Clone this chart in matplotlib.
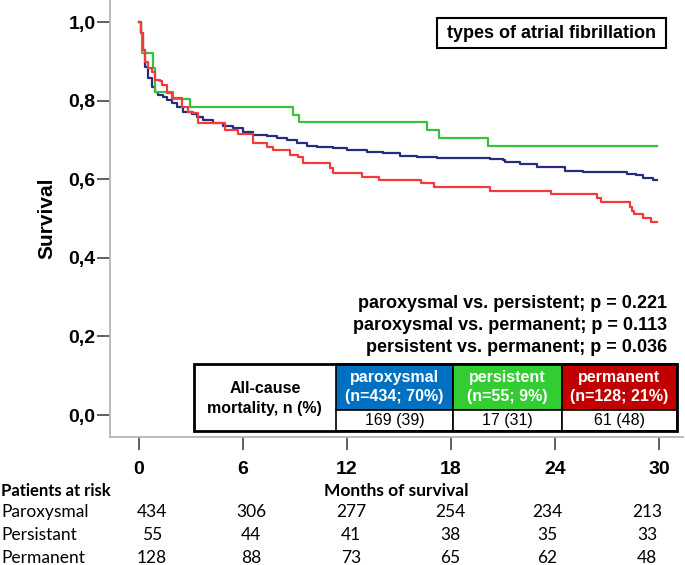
import matplotlib.pyplot as plt
from matplotlib.patches import Rectangle

# Kaplan-Meier curves (months, survival)
t_par = [0, 0.1, 0.21, 0.35, 0.54, 0.73, 0.92, 1.11, 1.40, 1.60, 1.89, 2.18, 2.56, 3.04,
         3.33, 3.71, 4.29, 4.86, 5.44, 6.02, 6.60, 7.37, 7.95, 8.52, 9.10, 9.68, 10.25,
         11.19, 11.98, 13.14, 14.1, 15.06, 16.02, 17.18, 20.25, 21.0, 21.12, 22.0, 22.95,
         24.58, 25.6, 28.14, 28.7, 29.08, 29.66, 29.87]
s_par = [1, 0.971, 0.929, 0.886, 0.857, 0.835, 0.823, 0.814, 0.810, 0.802, 0.793, 0.783,
         0.772, 0.765, 0.759, 0.751, 0.742, 0.735, 0.730, 0.721, 0.712, 0.710, 0.704, 0.700,
         0.693, 0.684, 0.683, 0.680, 0.674, 0.670, 0.666, 0.660, 0.657, 0.653, 0.651, 0.649,
         0.643, 0.639, 0.632, 0.621, 0.618, 0.613, 0.611, 0.602, 0.598, 0.598]

t_pers = [0, 0.1, 0.2, 0.83, 0.95, 1.94, 2.94, 8.9, 9.25, 16.6, 17.33, 20.16, 29.87]
s_pers = [1, 0.971, 0.922, 0.882, 0.823, 0.804, 0.785, 0.764, 0.745, 0.726, 0.705, 0.685, 0.685]

t_perm = [0, 0.1, 0.21, 0.35, 0.54, 0.73, 0.92, 1.21, 1.31, 1.6, 1.89, 2.46, 2.84, 3.13,
          3.42, 4.96, 5.73, 6.56, 7.37, 7.75, 8.71, 9.19, 9.48, 11.02, 11.21, 12.85, 13.87,
          16.25, 17.02, 20.25, 23.76, 26.41, 26.64, 28.33, 28.47, 28.56, 29.1, 29.53, 29.87]
s_perm = [1, 0.971, 0.929, 0.899, 0.882, 0.874, 0.852, 0.850, 0.840, 0.819, 0.806, 0.784,
          0.772, 0.768, 0.742, 0.725, 0.714, 0.691, 0.683, 0.674, 0.662, 0.657, 0.642, 0.628,
          0.615, 0.606, 0.598, 0.590, 0.579, 0.571, 0.562, 0.551, 0.541, 0.530, 0.520, 0.511,
          0.502, 0.492, 0.492]

months = [0, 6, 12, 18, 24, 30]
yticks = [0.0, 0.2, 0.4, 0.6, 0.8, 1.0]
ytick_labels = ["0,0", "0,2", "0,4", "0,6", "0,8", "1,0"]

risk_names = ["Paroxysmal", "Persistant", "Permanent"]
risk_par = [434, 306, 277, 254, 234, 213]
risk_pers = [55, 44, 41, 38, 35, 33]
risk_perm = [128, 88, 73, 65, 62, 48]

groups = ["paroxysmal", "persistent", "permanent"]
group_n = [434, 55, 128]
group_pct = [70, 9, 21]
deaths = [169, 17, 61]
death_pct = [39, 31, 48]

pvalues = [("paroxysmal vs. persistent", "0.221"),
           ("paroxysmal vs. permanent", "0.113"),
           ("persistent vs. permanent", "0.036")]

W, H = 685, 565
FONT = "Liberation Sans"
FONT2 = "Lato"

fig = plt.figure(figsize=(W / 100, H / 100), dpi=100)
ax = fig.add_axes([110 / W, 1 - 437.3 / H, (683 - 110) / W, 437.3 / H])

ax.step(t_par, s_par, where="post", color="#252D7C", lw=1.6)
ax.step(t_pers, s_pers, where="post", color="#3CBF3C", lw=1.6)
ax.step(t_perm, s_perm, where="post", color="#F23A3A", lw=1.6)

ax.set_xlim(-1.673, 31.39)
ax.set_ylim(-0.0567, 1.056)
ax.set_xticks(months)
ax.set_xticklabels([str(m) for m in months], fontsize=14, fontweight="bold", family=FONT)
ax.set_yticks(yticks)
ax.set_yticklabels(ytick_labels, fontsize=14, fontweight="bold", family=FONT)
ax.tick_params(axis="x", length=9, width=1.2, color="#444444", pad=8)
ax.tick_params(axis="y", length=9.5, width=1.2, color="#444444", pad=1)
for side in ["top", "right"]:
    ax.spines[side].set_visible(False)
for side in ["left", "bottom"]:
    ax.spines[side].set_color("#B5B5B5")
    ax.spines[side].set_linewidth(1.3)

ax.set_xlabel("Months of survival", fontsize=12.5, fontweight="bold", family=FONT2, labelpad=4)

# overlay in pixel units for the annotation boxes and the risk table
ov = fig.add_axes([0, 0, 1, 1])
ov.set_xlim(0, W)
ov.set_ylim(H, 0)
ov.axis("off")
ov.patch.set_alpha(0)

ov.text(47, 218, "Survival", rotation=90, ha="center", va="center",
        fontsize=15, fontweight="bold", family=FONT)

# legend title box
ov.add_patch(Rectangle((436.7, 18.3), 229.3, 30, fill=False, ec="black", lw=1.5))
ov.text(551.3, 33.5, "types of atrial fibrillation", ha="center", va="center",
        fontsize=13, fontweight="bold", family=FONT)

# p-values
for i, (cmp, p) in enumerate(pvalues):
    ov.text(667, 303 + i * 22.5, f"{cmp}; p = {p}", ha="right", va="center",
            fontsize=13, fontweight="bold", family=FONT)

# mortality table
colors = ["#0070C0", "#33CC33", "#C00000"]
col_x = [194, 335.7, 453, 561.7, 677]
top, mid, bot = 364, 410, 431
ov.text((col_x[0] + col_x[1]) / 2, (top + bot) / 2 + 1, "All-cause\nmortality, n (%)",
        ha="center", va="center", fontsize=11.5, fontweight="bold", family=FONT,
        linespacing=1.35)
for i in range(3):
    x0, x1 = col_x[i + 1], col_x[i + 2]
    ov.add_patch(Rectangle((x0, top), x1 - x0, mid - top, fc=colors[i], ec="black", lw=1.2))
    ov.add_patch(Rectangle((x0, mid), x1 - x0, bot - mid, fc="white", ec="black", lw=1.2))
    ov.text((x0 + x1) / 2, (top + mid) / 2, f"{groups[i]}\n(n={group_n[i]}; {group_pct[i]}%)",
            ha="center", va="center", color="white", fontsize=11.5, fontweight="bold",
            family=FONT, linespacing=1.35)
    ov.text((x0 + x1) / 2, (mid + bot) / 2, f"{deaths[i]} ({death_pct[i]})",
            ha="center", va="center", fontsize=11.5, family=FONT)
ov.add_patch(Rectangle((col_x[0], top), col_x[-1] - col_x[0], bot - top, fill=False,
                       ec="black", lw=2))

# patients at risk
risk_x = [152, 251, 351, 450, 547, 647]
ov.text(1, 490.5, "Patients at risk", ha="left", va="center", fontsize=12,
        fontweight="bold", family=FONT2)
for r, (name, vals) in enumerate(zip(risk_names, [risk_par, risk_pers, risk_perm])):
    y = 512 + r * 22.8
    ov.text(1, y, name, ha="left", va="center", fontsize=12.5, family=FONT2)
    for x, v in zip(risk_x, vals):
        ov.text(x, y, str(v), ha="center", va="center", fontsize=12.5, family=FONT2)

fig.savefig("out.png", dpi=100)
